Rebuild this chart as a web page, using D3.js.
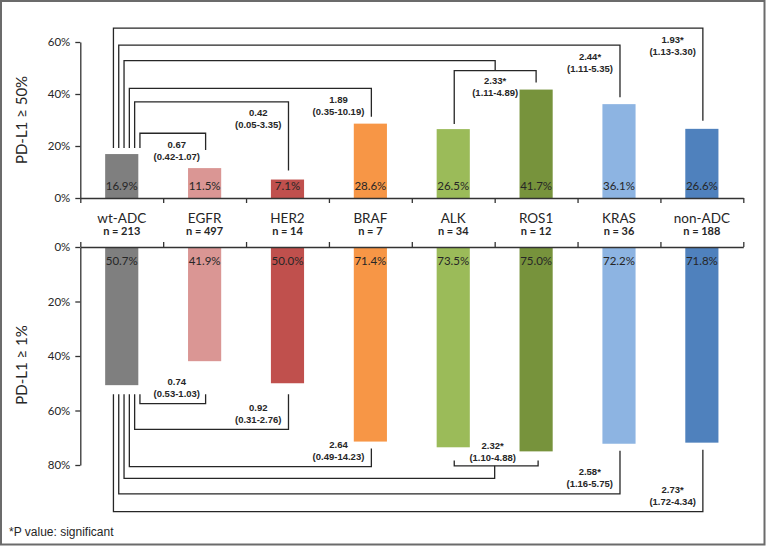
<!DOCTYPE html>
<html><head><meta charset="utf-8">
<script src="https://cdn.jsdelivr.net/npm/d3@7"></script>
<style>body{margin:0;background:#fff}svg{display:block}</style>
</head><body><svg id="c" width="766" height="546"></svg>
<script>
// ---- data ----
const categories = ["wt-ADC","EGFR","HER2","BRAF","ALK","ROS1","KRAS","non-ADC"];
const nCounts    = [213,497,14,7,34,12,36,188];
const pdl1High   = [16.9,11.5,7.1,28.6,26.5,41.7,36.1,26.6];   // PD-L1 >= 50%
const pdl1Any    = [50.7,41.9,50.0,71.4,73.5,75.0,72.2,71.8];   // PD-L1 >= 1%
const topTicks    = [0,20,40,60];
const bottomTicks = [0,20,40,60,80];
// comparisons vs wt-ADC
const compTargets = [["EGFR"],["HER2"],["BRAF"],["ALK","ROS1"],["KRAS"],["non-ADC"]];
const highOR  = [0.67,0.42,1.89,2.33,2.44,1.93];
const highLo  = [0.42,0.05,0.35,1.11,1.11,1.13];
const highHi  = [1.07,3.35,10.19,4.89,5.35,3.30];
const highSig = [false,false,false,true,true,true];
const anyOR   = [0.74,0.92,2.64,2.32,2.58,2.73];
const anyLo   = [0.53,0.31,0.49,1.10,1.16,1.72];
const anyHi   = [1.03,2.76,14.23,4.88,5.75,4.34];
const anySig  = [false,false,false,true,true,true];

// ---- styles / layout ----
const palette = ["#7f7f7f","#da9694","#c0504d","#f79646","#9bbb59","#77933c","#8db4e2","#4f81bd"];
const topLevel    = [24.9,37.0,42.2,52.8,58.8,65.3];   // bracket heights (in % units)
const topSubLevel = 49.0;
const topRightGap = [18,9,7,6,7,8];
const botLevel    = [57.5,66.9,80.6,84.9,90.6,97.1];
const botSubLevel = 80.3;

const svg = d3.select("#c");
const fmt = d3.format(".2f");
const ink = "#262626";

const x = d3.scaleBand().domain(categories).range([80.3,743.3]).paddingInner(0.6).paddingOuter(0.3);
const xb = d3.scaleLinear().domain([0,categories.length]).range([80.3,743.3]);
const yTop = d3.scaleLinear().domain([0,60]).range([198,42]);
const yBot = d3.scaleLinear().domain([0,80]).range([247,465]);
const cx = c => x(c) + x.bandwidth()/2;

// frame
svg.append("rect").attr("x",1).attr("y",1).attr("width",763.5).attr("height",543.5)
  .attr("fill","none").attr("stroke","#6b6b6b").attr("stroke-width",2);

// bars
svg.append("g").selectAll("rect").data(categories).join("rect")
  .attr("x",d=>x(d)).attr("width",x.bandwidth())
  .attr("y",(d,i)=>yTop(pdl1High[i])).attr("height",(d,i)=>yTop(0)-yTop(pdl1High[i]))
  .attr("fill",(d,i)=>palette[i]);
svg.append("g").selectAll("rect").data(categories).join("rect")
  .attr("x",d=>x(d)).attr("width",x.bandwidth())
  .attr("y",yBot(0)).attr("height",(d,i)=>yBot(pdl1Any[i])-yBot(0))
  .attr("fill",(d,i)=>palette[i]);

// value labels
const valFont = "Lato, 'Open Sans', sans-serif";
svg.append("g").selectAll("text").data(categories).join("text")
  .attr("x",d=>cx(d)).attr("y",yTop(0)-8).attr("text-anchor","middle")
  .attr("font-family",valFont).attr("font-size",11.5).attr("fill",ink)
  .text((d,i)=>pdl1High[i].toFixed(1)+"%");
svg.append("g").selectAll("text").data(categories).join("text")
  .attr("x",d=>cx(d)).attr("y",yBot(0)+18).attr("text-anchor","middle")
  .attr("font-family",valFont).attr("font-size",11.5).attr("fill",ink)
  .text((d,i)=>pdl1Any[i].toFixed(1)+"%");

// axes
function styleAxis(g){
  g.selectAll("path,line").attr("stroke","#333").attr("stroke-width",1.3);
  g.selectAll("text").attr("font-family",valFont).attr("font-size",11.5).attr("fill",ink);
}
svg.append("g").attr("transform",`translate(80.3,0)`)
  .call(d3.axisLeft(yTop).tickValues(topTicks).tickFormat(d=>d+"%").tickSize(5).tickSizeOuter(0).tickPadding(5))
  .call(styleAxis);
svg.append("g").attr("transform",`translate(80.3,0)`)
  .call(d3.axisLeft(yBot).tickValues(bottomTicks).tickFormat(d=>d+"%").tickSize(5).tickSizeOuter(0).tickPadding(5))
  .call(styleAxis);
svg.append("g").attr("transform",`translate(0,${yTop(0)})`)
  .call(d3.axisBottom(xb).tickValues(d3.range(categories.length+1)).tickFormat("").tickSize(5).tickSizeOuter(0))
  .call(styleAxis);
svg.append("g").attr("transform",`translate(0,${yBot(0)})`)
  .call(d3.axisTop(xb).tickValues(d3.range(categories.length+1)).tickFormat("").tickSize(5).tickSizeOuter(0))
  .call(styleAxis);

// category labels
svg.append("g").selectAll("text").data(categories).join("text")
  .attr("x",d=>cx(d)).attr("y",222.5).attr("text-anchor","middle")
  .attr("font-family",valFont).attr("font-size",13.5).attr("fill",ink).text(d=>d);
svg.append("g").selectAll("text").data(categories).join("text")
  .attr("x",d=>cx(d)).attr("y",235).attr("text-anchor","middle")
  .attr("font-family",valFont).attr("font-weight","bold").attr("font-size",11).attr("fill",ink)
  .text((d,i)=>"n = "+nCounts[i]);

// axis titles
svg.append("text").attr("transform",`translate(27,${(yTop(0)+yTop(60))/2}) rotate(-90)`)
  .attr("text-anchor","middle").attr("font-family",valFont).attr("font-size",15).attr("fill",ink)
  .text("PD-L1 \u2265 50%");
svg.append("text").attr("transform",`translate(27,${(yBot(20)+yBot(60))/2+9}) rotate(-90)`)
  .attr("text-anchor","middle").attr("font-family",valFont).attr("font-size",15).attr("fill",ink)
  .text("PD-L1 \u2265 1%");

// footnote
svg.append("text").attr("x",9).attr("y",536).attr("font-family","'Liberation Sans', Arial, sans-serif")
  .attr("font-size",12).attr("fill",ink).text("*P value: significant");

// brackets
const br = svg.append("g").attr("fill","none").attr("stroke","#262626").attr("stroke-width",1.3);
const lab = svg.append("g").attr("font-family","'Liberation Sans', Arial, sans-serif")
  .attr("font-weight","bold").attr("font-size",9.5).attr("fill",ink).attr("text-anchor","middle");
const idx = c => categories.indexOf(c);
const leftX = r => cx(categories[0]) + 18.2 - 5.3*r;   // r=0 innermost

function label(xc, yc, orTxt, ciTxt, anchorRight){
  // two-line label; if anchorRight given, right edge of block placed there
  const t2 = lab.append("text").attr("y",yc+12+3.5).text(ciTxt);
  const t1 = lab.append("text").attr("y",yc+3.5).text(orTxt);
  let c = xc;
  if(anchorRight!==undefined){
    const w = t2.node().getComputedTextLength();
    c = anchorRight - w/2;
  }
  t1.attr("x",c); t2.attr("x",c);
}

const topLeftEnd = yTop(pdl1High[0]) - 6;
const botLeftStart = yBot(pdl1Any[0]) + 9;

compTargets.forEach((tg,k)=>{
  const lx = leftX(k);
  // ---------- top ----------
  const ly = yTop(topLevel[k]);
  const orT = fmt(highOR[k]) + (highSig[k]?"*":"");
  const ciT = "(" + fmt(highLo[k]) + "-" + fmt(highHi[k]) + ")";
  if(tg.length===1){
    const rx = cx(tg[0])+1;
    const re = yTop(pdl1High[idx(tg[0])]) - topRightGap[k];
    br.append("path").attr("d",`M${lx},${topLeftEnd}V${ly}H${rx}V${re}`);
    if(k===0) label((lx+rx)/2+4, ly+11, orT, ciT);
    else label(null, ly+11, orT, ciT, rx-7);
  } else {
    const a = cx(tg[0])+1, b = cx(tg[1]);
    const mid = (a+b)/2;
    const sy = yTop(topSubLevel);
    br.append("path").attr("d",`M${lx},${topLeftEnd}V${ly}H${mid}V${sy}`);
    br.append("path").attr("d",`M${a},${yTop(pdl1High[idx(tg[0])])-5}V${sy}H${b}V${yTop(pdl1High[idx(tg[1])])-7}`);
    label(mid, sy+10, orT, ciT);
  }
  // ---------- bottom ----------
  const by = yBot(botLevel[k]);
  const orB = fmt(anyOR[k]) + (anySig[k]?"*":"");
  const ciB = "(" + fmt(anyLo[k]) + "-" + fmt(anyHi[k]) + ")";
  if(tg.length===1){
    const rx = cx(tg[0])+1;
    const rs = Math.max(yBot(pdl1Any[idx(tg[0])]) + 7, botLeftStart);
    br.append("path").attr("d",`M${lx},${botLeftStart}V${by}H${rx}V${rs}`);
    if(k===0) label((lx+rx)/2+4, by-10.5-11.7, orB, ciB);
    else label(null, by-10.5-11.7, orB, ciB, rx-7);
  } else {
    const a = cx(tg[0])+1, b = cx(tg[1])+2;
    const mid = (cx(tg[0])+cx(tg[1]))/2;
    const sy = yBot(botSubLevel);
    const st = Math.max(yBot(pdl1Any[idx(tg[0])]), yBot(pdl1Any[idx(tg[1])])) + 9;
    br.append("path").attr("d",`M${lx},${botLeftStart}V${by}H${mid}V${sy}`);
    br.append("path").attr("d",`M${a},${st}V${sy}H${b}V${st}`);
    label(mid-2, sy-9-11.7, orB, ciB);
  }
});
</script></body></html>
